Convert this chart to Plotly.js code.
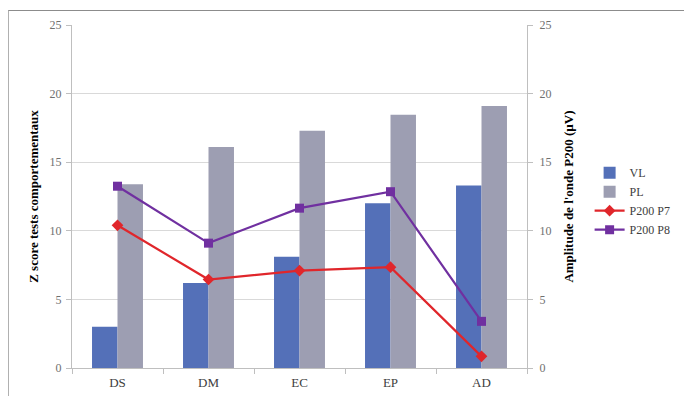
<!DOCTYPE html>
<html>
<head>
<meta charset="utf-8">
<script src="https://cdn.plot.ly/plotly-3.0.1.min.js"></script>
<style>
html,body{margin:0;padding:0;background:#fff;}
#wrap{position:relative;width:684px;height:396px;overflow:hidden;}
#frame{position:absolute;left:8px;top:10px;width:700px;height:400px;border-top:1px solid #8c8c8c;border-left:1px solid #b0b0b0;box-sizing:border-box;}
#chart{position:absolute;left:0;top:0;width:684px;height:396px;}
</style>
</head>
<body>
<div id="wrap"><div id="frame"></div><div id="chart"></div></div>
<script>
var categories = ["DS", "DM", "EC", "EP", "AD"];
var vl = [3.0, 6.2, 8.1, 12.0, 13.3];
var pl = [13.4, 16.1, 17.3, 18.45, 19.1];
var p200p7 = [10.4, 6.45, 7.1, 7.35, 0.85];
var p200p8 = [13.25, 9.1, 11.65, 12.85, 3.4];
var yTicks = [0, 5, 10, 15, 20, 25];

var serif = "Liberation Serif, DejaVu Serif, serif";

var traces = [
  {type: "bar", name: "VL", x: categories, y: vl, marker: {color: "#5470B8"}},
  {type: "bar", name: "PL", x: categories, y: pl, marker: {color: "#9D9EB2"}},
  {type: "scatter", mode: "lines+markers", name: "P200 P7", x: categories, y: p200p7, yaxis: "y2",
   line: {color: "#E0262B", width: 2.2}, marker: {symbol: "diamond", size: 9, color: "#E0262B"}},
  {type: "scatter", mode: "lines+markers", name: "P200 P8", x: categories, y: p200p8, yaxis: "y2",
   line: {color: "#7030A0", width: 2.2}, marker: {symbol: "square", size: 9, color: "#7030A0"}}
];

var layout = {
  width: 684, height: 396,
  margin: {l: 72, r: 157, t: 25, b: 28},
  paper_bgcolor: "rgba(0,0,0,0)",
  plot_bgcolor: "rgba(0,0,0,0)",
  barmode: "group",
  bargap: 0.44,
  bargroupgap: 0,
  font: {family: serif, size: 12, color: "#595959"},
  xaxis: {
    type: "category",
    showline: true, linecolor: "#bfbfbf", linewidth: 1,
    ticks: "outside", tickson: "boundaries", ticklen: 5, tickcolor: "#bfbfbf",
    showgrid: false,
    ticklabelstandoff: 2,
    tickfont: {family: serif, size: 13, color: "#404040"}
  },
  yaxis: {
    range: [0, 25], tickvals: yTicks,
    showline: true, linecolor: "#bfbfbf", linewidth: 1,
    ticks: "outside", ticklen: 5, tickcolor: "#bfbfbf",
    showgrid: true, gridcolor: "#d9d9d9", gridwidth: 1,
    zeroline: false,
    ticklabelstandoff: 2,
    tickfont: {family: serif, size: 12, color: "#707070"},
    title: {text: "<b>Z score tests comportementaux</b>", font: {family: serif, size: 13, color: "#000"}, standoff: 8}
  },
  yaxis2: {
    range: [0, 25], tickvals: yTicks,
    overlaying: "y", side: "right",
    showline: true, linecolor: "#bfbfbf", linewidth: 1,
    ticks: "outside", ticklen: 5, tickcolor: "#bfbfbf",
    showgrid: false, zeroline: false,
    ticklabelstandoff: 4,
    tickfont: {family: serif, size: 12, color: "#707070"},
    title: {text: "<b>Amplitude de l'onde P200 (µV)</b>", font: {family: serif, size: 13, color: "#000"}, standoff: 13}
  },
  legend: {
    xref: "container", yref: "container",
    x: 0.862, y: 0.492, xanchor: "left", yanchor: "middle",
    font: {family: serif, size: 12, color: "#404040"},
    tracegroupgap: 0, itemwidth: 30,
    bgcolor: "rgba(0,0,0,0)"
  },
  showlegend: true
};

Plotly.newPlot("chart", traces, layout, {displayModeBar: false, staticPlot: true});
</script>
</body>
</html>
